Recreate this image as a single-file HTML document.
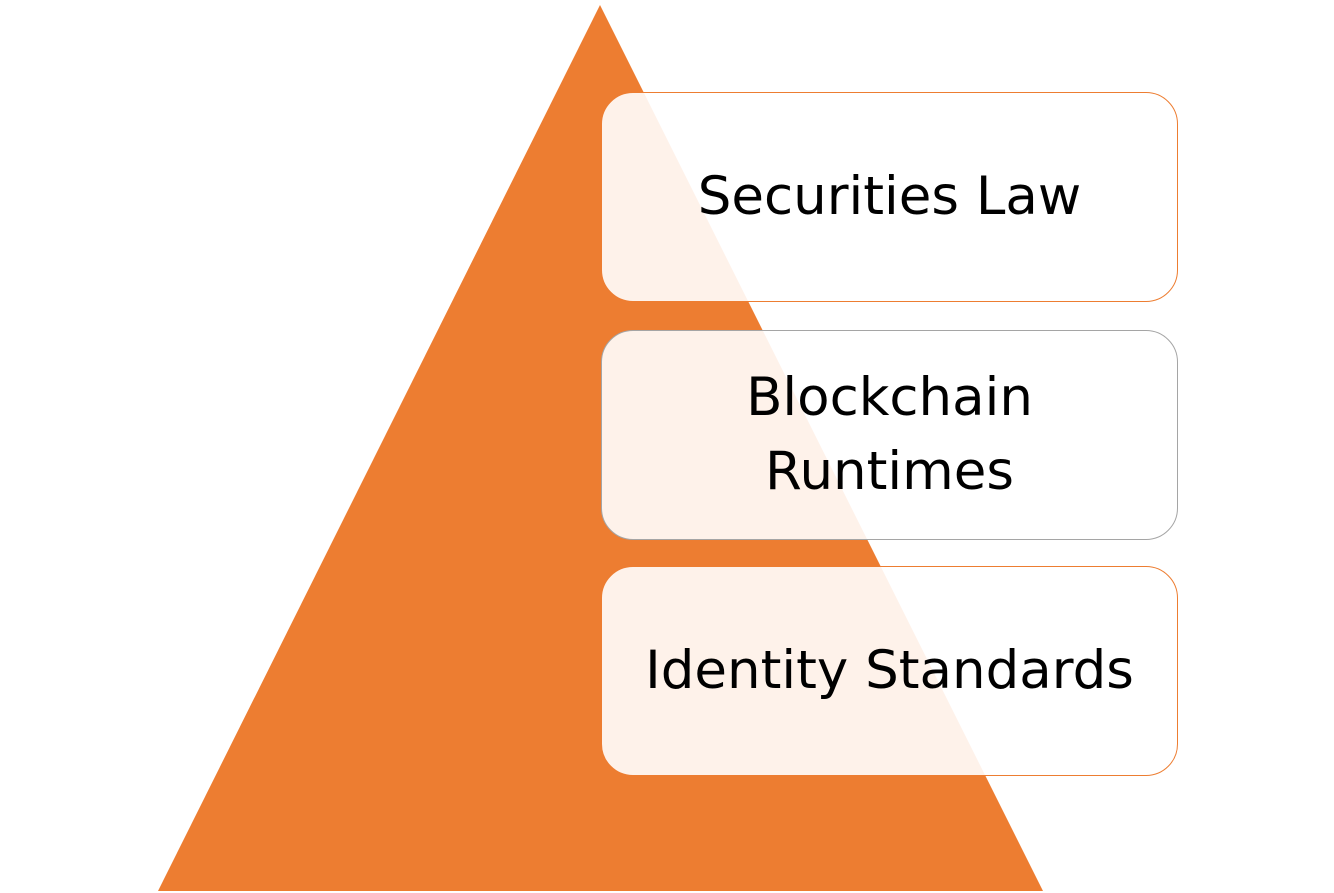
<!DOCTYPE html>
<html><head><style>
body{margin:0;width:1334px;height:893px;background:#fff;overflow:hidden;position:relative;font-family:"DejaVu Sans","Liberation Sans",sans-serif}
.b{position:absolute;left:601px;width:577px;height:210px;border-radius:32px;background:rgba(255,255,255,0.9);box-sizing:border-box;border:1.5px solid #ED7D31;display:flex;align-items:center;justify-content:center;text-align:center;font-size:53px;line-height:74px;color:#000}
</style></head><body>
<svg width="1334" height="893" style="position:absolute;left:0;top:0"><polygon points="600,5 158,891 1043,891" fill="#ED7D31"/></svg>
<div class="b" style="top:92px">Securities Law</div>
<div class="b" style="top:330px;border-color:#A5A5A5">Blockchain<br>Runtimes</div>
<div class="b" style="top:566px">Identity Standards</div>
</body></html>
